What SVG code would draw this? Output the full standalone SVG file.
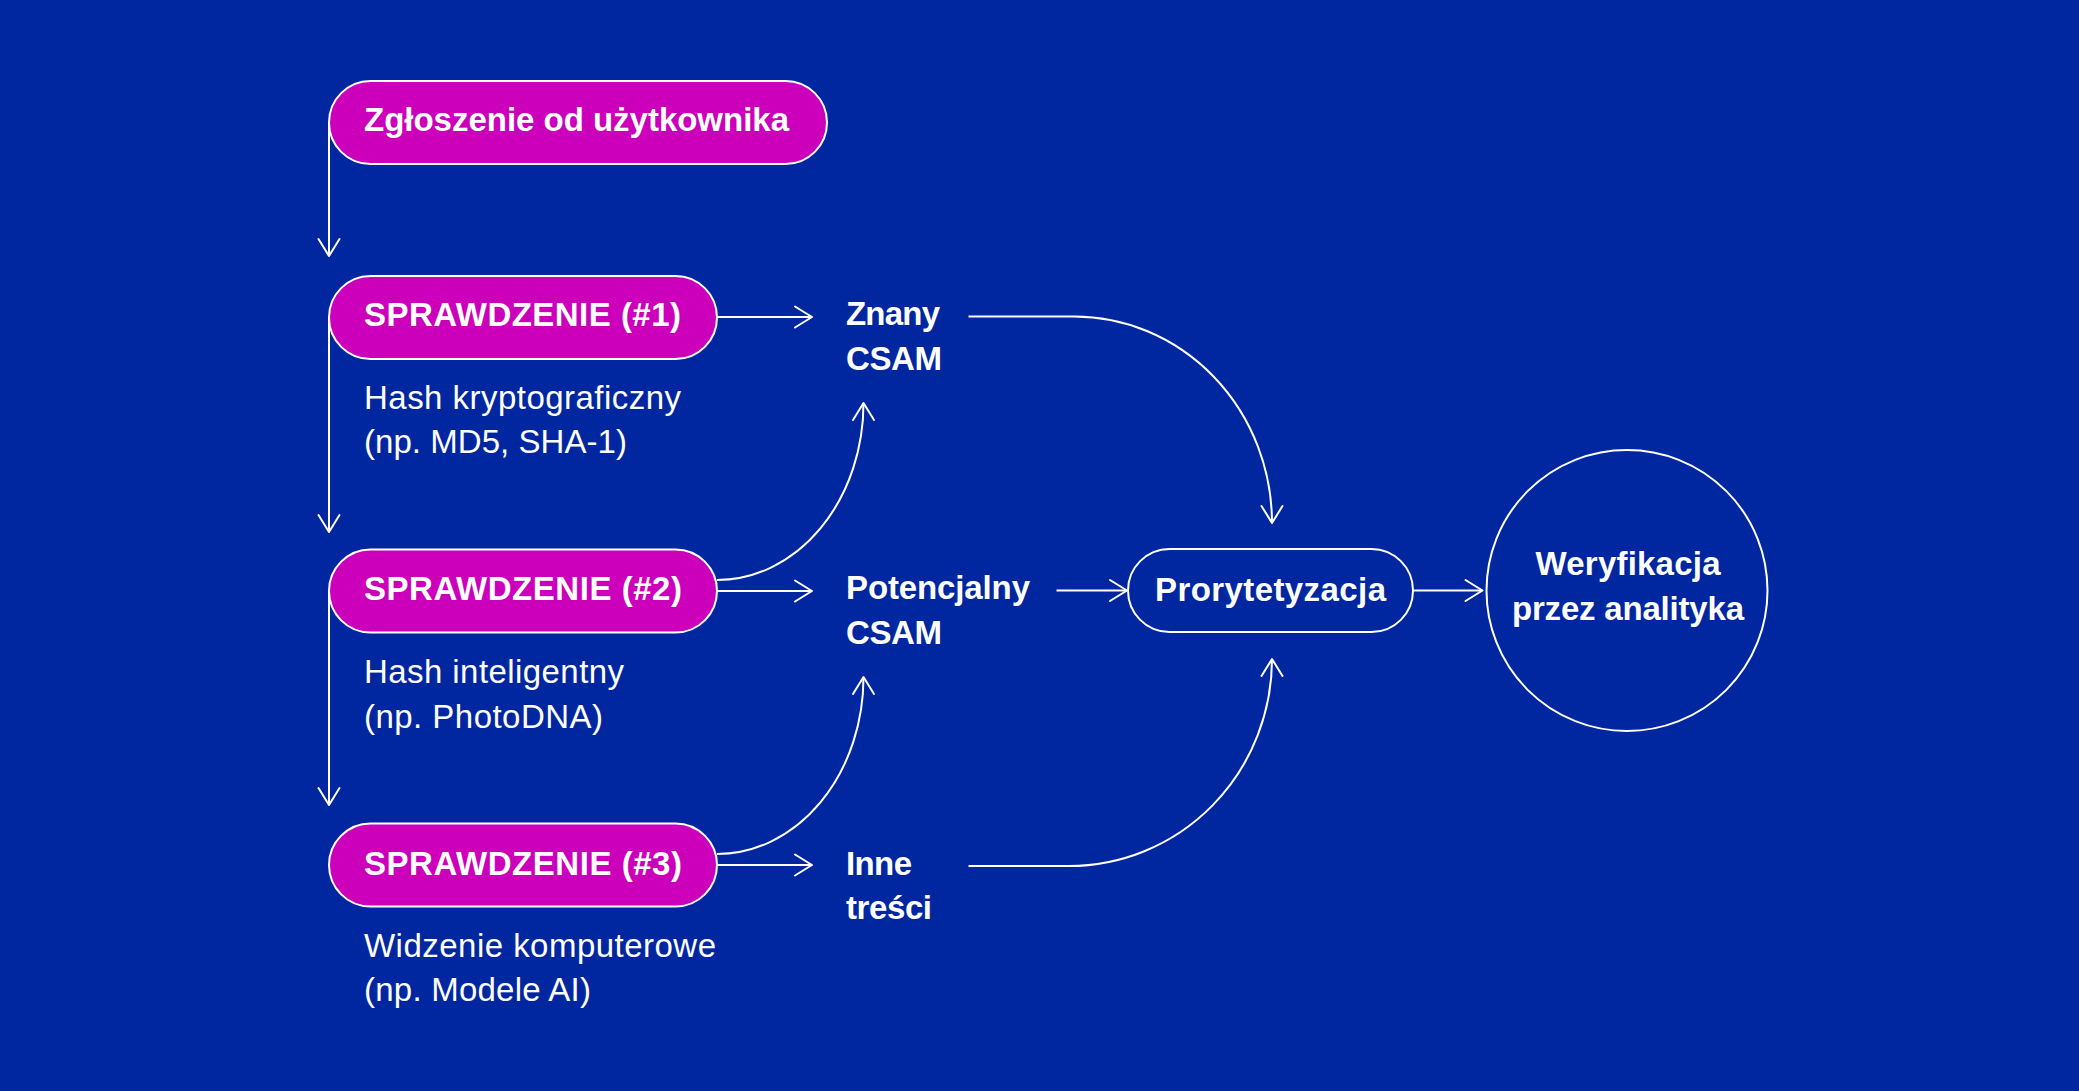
<svg xmlns="http://www.w3.org/2000/svg" width="2079" height="1091" viewBox="0 0 2079 1091">
<defs>
<style>
.bg{fill:#0027A0}
.pill{fill:#CC00BA;stroke:#fff;stroke-width:2}
.out{fill:none;stroke:#fff;stroke-width:2}
.b{font-family:"Liberation Sans",Arial,sans-serif;font-weight:700;font-size:33px;fill:#fff}
.r{font-family:"Liberation Sans",Arial,sans-serif;font-weight:400;font-size:33px;fill:#fff}
.c{fill:none;stroke:#fff;stroke-width:2;marker-end:url(#ah)}
</style>
<marker id="ah" viewBox="-20 -13 22 26" refX="0" refY="0" markerWidth="22" markerHeight="26" markerUnits="userSpaceOnUse" orient="auto">
<path d="M-17,-10.5 L0,0 L-17,10.5" fill="none" stroke="#fff" stroke-width="2" stroke-linecap="round" stroke-linejoin="round"/>
</marker>
</defs>
<rect class="bg" x="0" y="0" width="2079" height="1091"/>

<g id="connectors">
<path class="c" d="M329 122.5 V256"/>
<path class="c" d="M329 317.5 V532"/>
<path class="c" d="M329 591 V805"/>
<path class="c" d="M717 317 H812"/>
<path class="c" d="M717 591 H812"/>
<path class="c" d="M717 865 H812"/>
<path class="c" d="M717 580 A146.5 177 0 0 0 863.5 403"/>
<path class="c" d="M717 854 A146.5 177 0 0 0 863.5 677"/>
<path class="c" d="M968.5 316.5 H1074 A198 206.5 0 0 1 1272 523"/>
<path class="c" d="M968.5 866 H1069 A203 207 0 0 0 1272 659"/>
<path class="c" d="M1056.5 590.5 H1127"/>
<path class="c" d="M1413 590.5 H1482.5"/>
</g>

<g id="n-zgloszenie">
<rect class="pill" x="329" y="81" width="498" height="83" rx="41.5"/>
<text class="b" x="364" y="131" textLength="425">Zgłoszenie od użytkownika</text>
</g>

<g id="n-check1">
<rect class="pill" x="329" y="276" width="388" height="83" rx="41.5"/>
<text class="b" x="364" y="326" textLength="317">SPRAWDZENIE (#1)</text>
</g>
<g id="n-desc1">
<text class="r" x="364" y="409" textLength="317">Hash kryptograficzny</text>
<text class="r" x="364" y="453" textLength="263">(np. MD5, SHA-1)</text>
</g>

<g id="n-check2">
<rect class="pill" x="329" y="549.5" width="388" height="83" rx="41.5"/>
<text class="b" x="364" y="600" textLength="318">SPRAWDZENIE (#2)</text>
</g>
<g id="n-desc2">
<text class="r" x="364" y="683" textLength="260">Hash inteligentny</text>
<text class="r" x="364" y="728" textLength="239">(np. PhotoDNA)</text>
</g>

<g id="n-check3">
<rect class="pill" x="329" y="823.5" width="388" height="83" rx="41.5"/>
<text class="b" x="364" y="875" textLength="318">SPRAWDZENIE (#3)</text>
</g>
<g id="n-desc3">
<text class="r" x="364" y="957" textLength="352">Widzenie komputerowe</text>
<text class="r" x="364" y="1001" textLength="227">(np. Modele AI)</text>
</g>

<g id="n-znany">
<text class="b" x="846" y="325" textLength="94">Znany</text>
<text class="b" x="846" y="370" textLength="96">CSAM</text>
</g>

<g id="n-potencjalny">
<text class="b" x="846" y="599" textLength="184">Potencjalny</text>
<text class="b" x="846" y="644" textLength="96">CSAM</text>
</g>

<g id="n-inne">
<text class="b" x="846" y="875" textLength="66">Inne</text>
<text class="b" x="846" y="919" textLength="86">treści</text>
</g>

<g id="n-prorytetyzacja">
<rect class="out" x="1128" y="549" width="285" height="83" rx="41.5"/>
<text class="b" x="1155" y="601" textLength="231">Prorytetyzacja</text>
</g>

<g id="n-weryfikacja">
<circle class="out" cx="1627" cy="590.5" r="140.5"/>
<text class="b" x="1628" y="575" text-anchor="middle" textLength="185">Weryfikacja</text>
<text class="b" x="1628" y="620" text-anchor="middle" textLength="232">przez analityka</text>
</g>
</svg>
